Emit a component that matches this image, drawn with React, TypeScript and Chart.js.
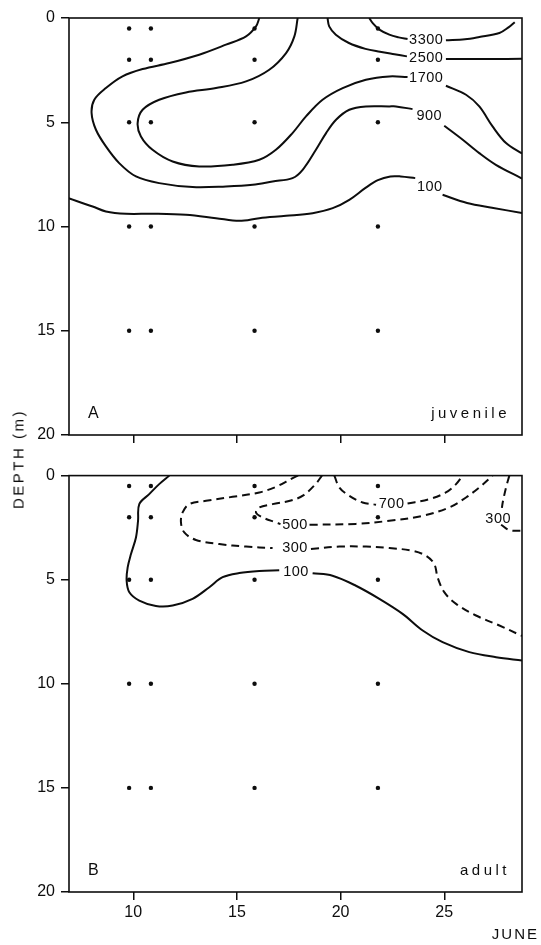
import React, { useEffect, useRef } from 'react';
import { Chart, registerables } from 'chart.js';

Chart.register(...registerables);

type P = [number, number] | null;

const INK = '#0d0d0d';
const FONT = '"Liberation Sans", Arial, sans-serif';

// axes
const dayMin = 6.9;
const dayMax = 28.75;
const dayTicks = [10, 15, 20, 25];
const depthTicks = [0, 5, 10, 15, 20];

// sampling stations (day of June, depth m)
const sampleDays = [9.8, 10.85, 15.85, 21.8];
const sampleDepths = [0.5, 2, 5, 10, 15];

// ---- Panel A: juvenile isolines (day, depth); null = gap for label ----
const juv3300: P[] = [[21.38, 0], [21.55, 0.25], [21.87, 0.56], [22.35, 0.8], [22.8, 0.93], [23.23, 1.01], null,
  [25.08, 1.07], [26.0, 1.02], [26.69, 0.91], [27.66, 0.72], [28.1, 0.45], [28.4, 0.2]];
const juv2500: P[] = [[19.37, 0], [19.45, 0.4], [19.77, 0.8], [20.4, 1.2], [21.2, 1.48], [21.9, 1.62], [22.6, 1.74], [23.2, 1.84], null,
  [25.08, 1.97], [27.3, 1.97], [28.75, 1.96]];
const juv1700: P[] = [[17.93, 0], [17.77, 0.88], [17.37, 1.68], [16.56, 2.48], [15.44, 3.04], [13.99, 3.36], [12.54, 3.57],
  [11.25, 3.92], [10.45, 4.4], [10.21, 5.04], [10.37, 5.68], [10.93, 6.32], [11.9, 6.88], [13.18, 7.12], [14.79, 7.04],
  [16.08, 6.8], [16.88, 6.32], [17.68, 5.52], [18.33, 4.72], [19.13, 3.92], [20.1, 3.36], [21.22, 2.96], [22.35, 2.8],
  [23.23, 2.83], null, [25.08, 3.25], [26.05, 3.68], [26.69, 4.24], [27.33, 5.2], [27.98, 6.0], [28.75, 6.5]];
const juv900: P[] = [[16.08, 0], [15.92, 0.4], [15.44, 0.88], [14.47, 1.28], [13.18, 1.76], [11.74, 2.16], [10.45, 2.45],
  [9.48, 2.8], [8.68, 3.36], [8.12, 3.92], [7.99, 4.56], [8.2, 5.36], [8.68, 6.16], [9.32, 6.96], [10.13, 7.6],
  [11.25, 7.92], [12.86, 8.11], [14.47, 8.08], [15.76, 8.0], [16.72, 7.84], [17.68, 7.68], [18.17, 7.28], [18.81, 6.32],
  [19.3, 5.52], [19.78, 4.88], [20.42, 4.4], [21.22, 4.24], [22.35, 4.24], [22.67, 4.24], [23.47, 4.37], null,
  [25.0, 5.17], [25.89, 5.84], [26.69, 6.48], [27.49, 7.04], [28.75, 7.7]];
const juv100: P[] = [[6.86, 8.64], [8.04, 9.04], [8.68, 9.28], [9.65, 9.39], [10.93, 9.39], [12.54, 9.44], [13.99, 9.6],
  [15.11, 9.73], [16.08, 9.6], [17.37, 9.49], [18.65, 9.36], [19.62, 9.12], [20.42, 8.72], [21.2, 8.15], [21.8, 7.78],
  [22.4, 7.6], [22.9, 7.6], [23.6, 7.68], null, [24.92, 8.48], [26.1, 8.87], [27.3, 9.1], [28.75, 9.35]];
const juvLabels: [string, number, number][] = [
  ['3300', 24.13, 1.04], ['2500', 24.13, 1.92], ['1700', 24.13, 2.88], ['900', 24.28, 4.72], ['100', 24.3, 8.1],
];

// ---- Panel B: adult isolines ----
const ad100: P[] = [[11.74, 0], [11.25, 0.41], [10.77, 0.89], [10.29, 1.37], [10.23, 2.17], [10.13, 2.97], [9.89, 3.77],
  [9.73, 4.41], [9.68, 5.05], [9.81, 5.6], [10.29, 6.0], [11.09, 6.26], [11.9, 6.24], [12.86, 5.92], [13.67, 5.36],
  [14.31, 4.88], [15.11, 4.68], [16.08, 4.58], [17.04, 4.55], null, [18.65, 4.69], [19.61, 4.81], [20.74, 5.29],
  [21.87, 5.92], [22.99, 6.64], [23.96, 7.44], [24.92, 8.0], [26.21, 8.48], [27.5, 8.72], [28.75, 8.88]];
const ad300: P[] = [[17.95, 0], [17.69, 0.12], [16.88, 0.54], [16.08, 0.81], [14.79, 1.02], [13.51, 1.21], [12.7, 1.37],
  [12.38, 1.77], [12.3, 2.25], [12.46, 2.73], [13.02, 3.09], [14.15, 3.29], [15.44, 3.41], [16.72, 3.48], null,
  [18.57, 3.53], [19.94, 3.41], [21.23, 3.41], [22.35, 3.48], [23.47, 3.61], [24.12, 3.85], [24.52, 4.25], [24.68, 4.89],
  [25.0, 5.6], [25.57, 6.16], [26.53, 6.72], [27.66, 7.2], [28.75, 7.7]];
const ad500: P[] = [[19.1, 0], [18.8, 0.4], [18.2, 0.95], [17.6, 1.2], [16.72, 1.37], [16.08, 1.53], [15.92, 1.77],
  [16.24, 2.01], [16.88, 2.25], [17.1, 2.33], null, [18.5, 2.36], [20.74, 2.32], [22.35, 2.17], [23.96, 1.93],
  [25.24, 1.53], [26.05, 1.05], [26.69, 0.57], [27.33, 0]];
const ad700: P[] = [[19.7, 0], [19.94, 0.57], [20.42, 0.97], [21.06, 1.29], [21.71, 1.4], null, [23.23, 1.34],
  [24.28, 1.13], [25.08, 0.81], [25.57, 0.41], [25.89, 0]];
const ad300b: P[] = [[28.14, 0], [27.98, 0.57], [27.82, 1.29], [27.78, 1.55], null, [27.74, 2.36], [28.14, 2.62], [28.75, 2.65]];
const adLabels: [string, number, number][] = [
  ['700', 22.46, 1.37], ['500', 17.8, 2.38], ['300', 17.8, 3.5], ['100', 17.85, 4.65], ['300', 27.6, 2.08],
];

const toPoints = (pts: P[]) => {
  const out: { x: number; y: number | null }[] = [];
  let lastX = 0;
  for (const p of pts) {
    if (p === null) out.push({ x: lastX, y: null });
    else { out.push({ x: p[0], y: p[1] }); lastX = p[0]; }
  }
  return out;
};

type PanelCfg = {
  lines: { pts: P[]; dashed: boolean }[];
  labels: [string, number, number][];
  letter: string;
  name: string;
  showDayLabels: boolean;
  padTop: number;
  xAxisHeight: number;
};

function makeChart(canvas: HTMLCanvasElement, cfg: PanelCfg) {
  const datasets: any[] = cfg.lines.map((l) => ({
    type: 'line',
    data: toPoints(l.pts),
    borderColor: INK,
    borderWidth: 2,
    borderDash: l.dashed ? [8, 5] : [],
    pointRadius: 0,
    tension: 0.35,
    spanGaps: false,
    fill: false,
  }));
  datasets.push({
    type: 'scatter',
    data: sampleDays.flatMap((d) => sampleDepths.map((z) => ({ x: d, y: z }))),
    pointRadius: 2.2,
    pointBackgroundColor: INK,
    pointBorderWidth: 0,
    showLine: false,
  });

  const deco = {
    id: 'deco',
    afterDatasetsDraw(chart: any) {
      const { ctx, chartArea: a, scales } = chart;
      const xs = scales.x;
      const ys = scales.y;
      ctx.save();
      ctx.strokeStyle = INK;
      ctx.lineWidth = 1.6;
      ctx.strokeRect(a.left, a.top, a.right - a.left, a.bottom - a.top);
      ctx.fillStyle = INK;
      ctx.font = `14.5px ${FONT}`;
      ctx.textAlign = 'center';
      ctx.textBaseline = 'middle';
      (ctx as any).letterSpacing = '0.5px';
      for (const [t, dx, dy] of cfg.labels) {
        ctx.fillText(t, xs.getPixelForValue(dx), ys.getPixelForValue(dy));
      }
      ctx.font = `16px ${FONT}`;
      (ctx as any).letterSpacing = '0px';
      ctx.textAlign = 'left';
      ctx.fillText(cfg.letter, a.left + 19, a.bottom - 21);
      ctx.font = `15px ${FONT}`;
      (ctx as any).letterSpacing = '3.5px';
      ctx.textAlign = 'right';
      ctx.fillText(cfg.name, a.right - 12, a.bottom - 21);
      if (cfg.showDayLabels) {
        (ctx as any).letterSpacing = '2px';
        ctx.fillText('JUNE', a.right + 17, a.bottom + 43);
      }
      ctx.restore();
    },
  };

  return new Chart(canvas, {
    type: 'line',
    data: { datasets },
    plugins: [deco],
    options: {
      animation: false,
      responsive: false,
      events: [],
      layout: { padding: { left: 0, top: cfg.padTop, right: 19, bottom: 0 } },
      plugins: { legend: { display: false }, tooltip: { enabled: false } },
      scales: {
        x: {
          type: 'linear',
          min: dayMin,
          max: dayMax,
          afterBuildTicks: (s: any) => { s.ticks = dayTicks.map((v) => ({ value: v })); },
          afterFit: (s: any) => { s.height = cfg.xAxisHeight; },
          grid: { display: true, drawOnChartArea: false, drawTicks: true, tickLength: 8, color: INK, lineWidth: 1.5 },
          border: { display: false },
          ticks: {
            display: cfg.showDayLabels,
            color: INK,
            font: { family: FONT, size: 16 },
            padding: 3,
            maxRotation: 0,
            autoSkip: false,
            callback: (v: any) => String(v),
          },
        },
        y: {
          type: 'linear',
          min: 0,
          max: 20,
          reverse: true,
          afterBuildTicks: (s: any) => { s.ticks = depthTicks.map((v) => ({ value: v })); },
          afterFit: (s: any) => { s.width = 69; },
          grid: { display: true, drawOnChartArea: false, drawTicks: true, tickLength: 8, color: INK, lineWidth: 1.5 },
          border: { display: false },
          ticks: {
            color: INK,
            font: { family: FONT, size: 16 },
            padding: 6,
            autoSkip: false,
            callback: (v: any) => String(v),
          },
        },
      },
    } as any,
  });
}

export default function App() {
  const refA = useRef<HTMLCanvasElement>(null);
  const refB = useRef<HTMLCanvasElement>(null);

  useEffect(() => {
    const a = makeChart(refA.current!, {
      lines: [
        { pts: juv3300, dashed: false },
        { pts: juv2500, dashed: false },
        { pts: juv1700, dashed: false },
        { pts: juv900, dashed: false },
        { pts: juv100, dashed: false },
      ],
      labels: juvLabels,
      letter: 'A',
      name: 'juvenile',
      showDayLabels: false,
      padTop: 18,
      xAxisHeight: 25,
    });
    const b = makeChart(refB.current!, {
      lines: [
        { pts: ad100, dashed: false },
        { pts: ad300, dashed: true },
        { pts: ad500, dashed: true },
        { pts: ad700, dashed: true },
        { pts: ad300b, dashed: true },
      ],
      labels: adLabels,
      letter: 'B',
      name: 'adult',
      showDayLabels: true,
      padTop: 15,
      xAxisHeight: 53,
    });
    return () => { a.destroy(); b.destroy(); };
  }, []);

  return (
    <div style={{ position: 'absolute', left: 0, top: 0, width: 541, height: 945, background: '#fff' }}>
      <canvas ref={refA} width={541} height={460}
        style={{ position: 'absolute', left: 0, top: 0, width: 541, height: 460 }} />
      <canvas ref={refB} width={541} height={485}
        style={{ position: 'absolute', left: 0, top: 460, width: 541, height: 485 }} />
      <div style={{
        position: 'absolute', left: 18, top: 459, transform: 'translate(-50%, -50%) rotate(-90deg)',
        whiteSpace: 'nowrap', fontFamily: FONT, fontSize: 15, letterSpacing: '2.5px', color: INK, lineHeight: 1,
      }}>DEPTH (m)</div>
    </div>
  );
}
